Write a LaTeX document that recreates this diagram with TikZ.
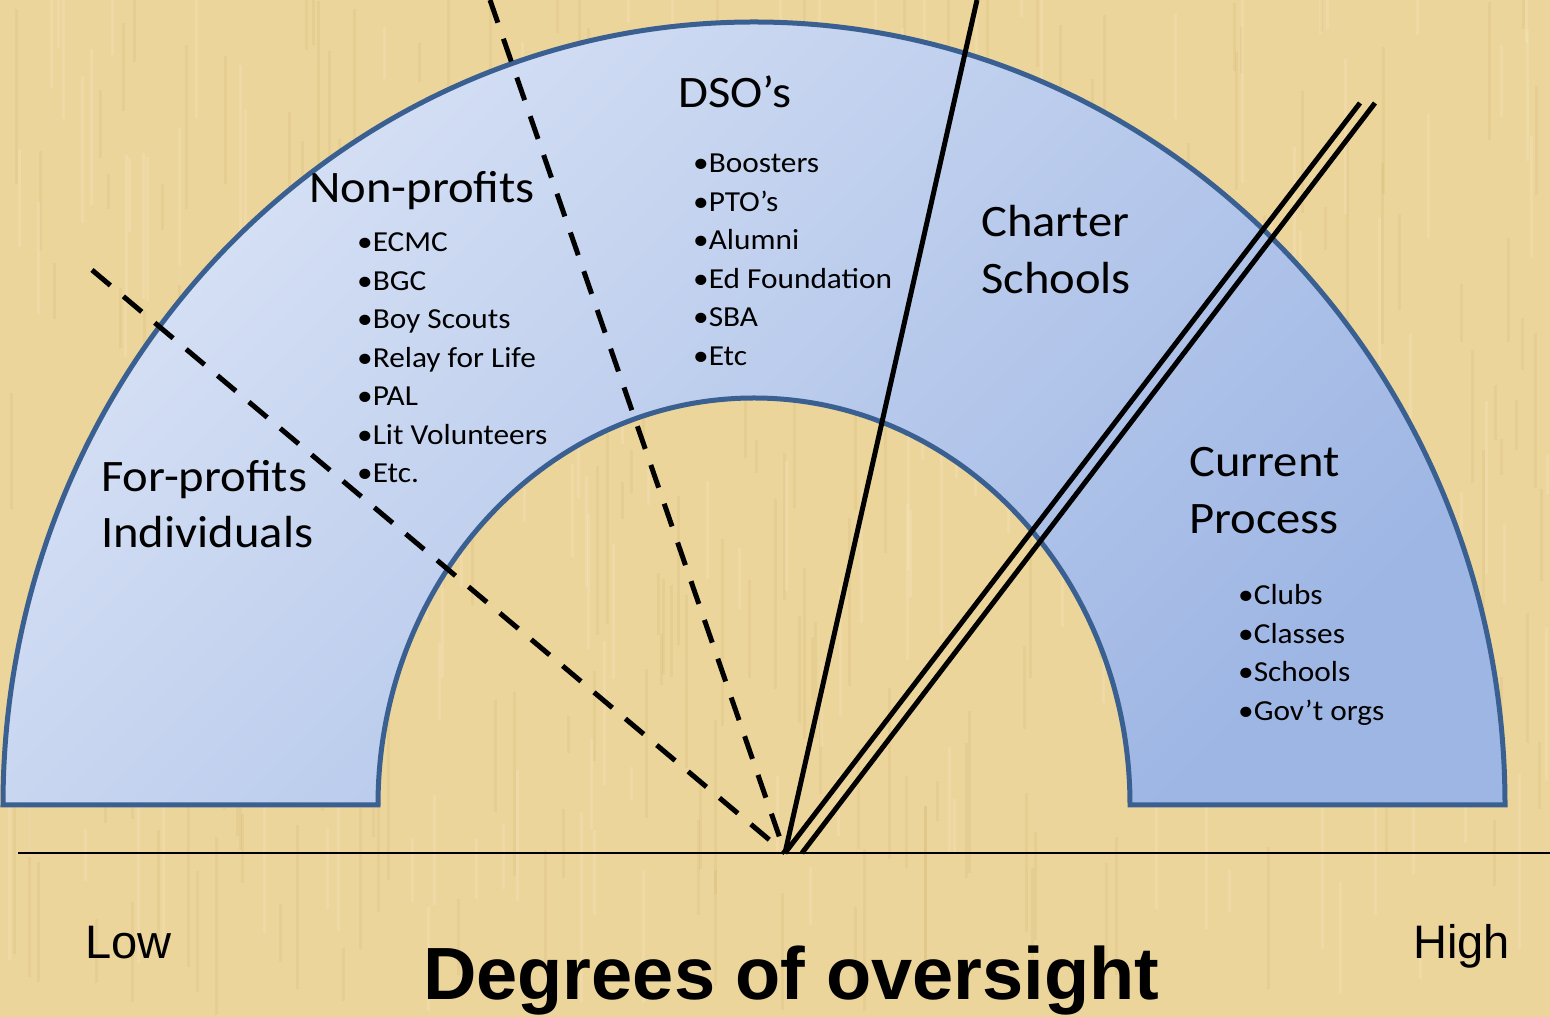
\documentclass[tikz,border=0pt]{standalone}
\usepackage{fontspec}
\setmainfont{Carlito}[FakeStretch=1.08]
\newfontfamily\axisfont{Liberation Sans}
\definecolor{papyrus}{RGB}{236,213,155}
\definecolor{papyrusdark}{RGB}{205,174,105}
\definecolor{papyruslight}{RGB}{246,230,190}
\definecolor{archlight}{RGB}{216,226,245}
\definecolor{archdark}{RGB}{158,182,228}
\definecolor{archedge}{RGB}{58,96,146}

\begin{document}
\begin{tikzpicture}[%
        x=1pt, y=1pt,
        heading/.style={anchor=base west, inner sep=0pt, font=\fontsize{45}{56}\selectfont},
        item/.style={anchor=base west, inner sep=0pt, font=\fontsize{29}{38}\selectfont},
        axislabel/.style={anchor=base west, inner sep=0pt, font=\axisfont\fontsize{47}{56}\selectfont},
        fibre/.style={line width=3pt, opacity=0.18},
        split/.style={line width=5pt, dash pattern=on 24pt off 17pt},
        bound/.style={line width=5pt}
        ]
        \useasboundingbox (0,0) rectangle (1550,1017);
        % papyrus background
        \fill[papyrus] (0,0) rectangle (1550,1017);
        \pgfmathsetseed{42}
        \foreach \k in {1,...,220}{
            \pgfmathsetmacro\xx{rnd*1550}
            \pgfmathsetmacro\yy{rnd*1000}
            \pgfmathsetmacro\ll{30+rnd*160}
            \draw[fibre, papyrusdark] (\xx,\yy) -- ++(0,\ll);
        }
        \foreach \k in {1,...,160}{
            \pgfmathsetmacro\xx{rnd*1550}
            \pgfmathsetmacro\yy{rnd*1000}
            \pgfmathsetmacro\ll{30+rnd*160}
            \draw[fibre, papyruslight, opacity=0.35] (\xx,\yy) -- ++(0,\ll);
        }

        % the arch
        \draw[line width=5pt, draw=archedge, top color=archlight, bottom color=archdark, shading angle=45]
            (3,212) arc[start angle=180, end angle=0, x radius=751, y radius=783]
            -- (1130,212) arc[start angle=0, end angle=180, x radius=376, y radius=407] -- cycle;

        % axis and dividers
        \coordinate (origin) at (785,164);
        \coordinate (lowend) at (18,164);
        \coordinate (highend) at (1550,164);
        \coordinate (cut1) at (92,747);
        \coordinate (cut2) at (490,1017);
        \coordinate (cut3) at (977,1017);
        \coordinate (cut4a) at (1360,914);
        \coordinate (cut4b) at (1375,914);
        \coordinate (foot4b) at (802,164);
        \draw[line width=2pt] (lowend) -- (highend);
        \draw[split] (cut1) -- (origin);
        \draw[split] (cut2) -- (origin);
        \draw[bound] (origin) -- (cut3);
        \draw[bound] (origin) -- (cut4a);
        \draw[bound] (foot4b) -- (cut4b);

        % sector headings
        \node[heading] (dso) at (678,909) {DSO’s};
        \node[heading] (npo) at (309,814) {Non-profits};
        \node[heading] (cha) at (981,780) {Charter};
        \node[heading] (chb) at (981,723) {Schools};
        \node[heading] (fpa) at (101,525) {For-profits};
        \node[heading] (fpb) at (101,469) {Individuals};
        \node[heading] (cpa) at (1189,540) {Current};
        \node[heading] (cpb) at (1189,483) {Process};

        % bullet lists
        \foreach \txt [count=\i] in {ECMC, BGC, Boy Scouts, Relay for Life, PAL, Lit Volunteers, Etc.}
            \node[item] (npo\i) at (357,{765-38.5*(\i-1)}) {•\txt};
        \foreach \txt [count=\i] in {Boosters, PTO’s, Alumni, Ed Foundation, SBA, Etc}
            \node[item] (dso\i) at (693,{844-38.5*(\i-1)}) {•\txt};
        \foreach \txt [count=\i] in {Clubs, Classes, Schools, Gov’t orgs}
            \node[item] (cp\i) at (1238,{412-38.5*(\i-1)}) {•\txt};

        % axis labels
        \node[axislabel] (low) at (85,58) {Low};
        \node[axislabel] (high) at (1413,58) {High};
        \node[anchor=base west, inner sep=0pt, font=\axisfont\bfseries\fontsize{74}{80}\selectfont] (title) at (423,17) {Degrees of oversight};
    \end{tikzpicture}
\end{document}
